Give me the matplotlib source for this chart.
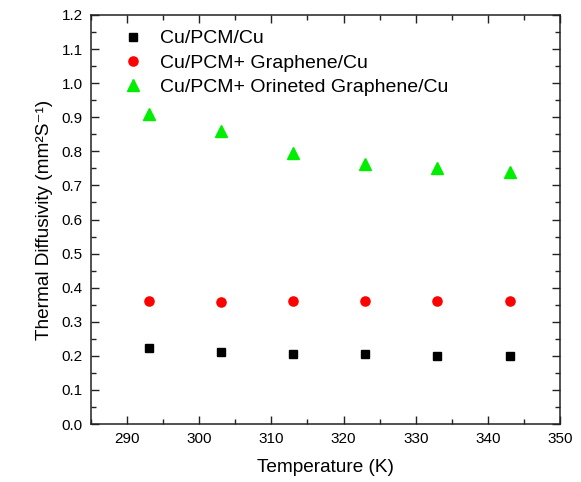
import matplotlib
matplotlib.use("Agg")
import matplotlib.pyplot as plt
from matplotlib.ticker import MultipleLocator, FormatStrFormatter

plt.rcParams['font.family'] = ['Liberation Sans', 'DejaVu Sans']

temperature = [293, 303, 313, 323, 333, 343]
cu_pcm_cu = [0.222, 0.212, 0.204, 0.204, 0.201, 0.199]
cu_pcm_graphene = [0.362, 0.358, 0.362, 0.362, 0.362, 0.361]
cu_pcm_oriented = [0.909, 0.860, 0.794, 0.764, 0.750, 0.739]

fig = plt.figure(figsize=(5.81, 4.82), dpi=100)
ax = fig.add_axes([0.1566, 0.1203, 0.8074, 0.8486])

ax.plot(temperature, cu_pcm_cu, linestyle='none', marker='s', ms=6.0,
        color='black', label='Cu/PCM/Cu')
ax.plot(temperature, cu_pcm_graphene, linestyle='none', marker='o', ms=6.6,
        color='#ff0000', label='Cu/PCM+ Graphene/Cu')
ax.plot(temperature, cu_pcm_oriented, linestyle='none', marker='^', ms=8,
        color='#00ee00', label='Cu/PCM+ Orineted Graphene/Cu')

ax.set_xlim(285, 350)
ax.set_ylim(0.0, 1.2)
ax.xaxis.set_major_locator(MultipleLocator(10))
ax.xaxis.set_minor_locator(MultipleLocator(5))
ax.yaxis.set_major_locator(MultipleLocator(0.1))
ax.yaxis.set_minor_locator(MultipleLocator(0.05))
ax.yaxis.set_major_formatter(FormatStrFormatter('%.1f'))

ax.tick_params(which='both', direction='in', top=True, right=True,
               labelsize=11, width=1, color='#222222')
ax.tick_params(which='major', length=6, pad=6)
ax.tick_params(which='minor', length=3.5)
for s in ax.spines.values():
    s.set_linewidth(1.1)
    s.set_color('#222222')

ax.set_xlabel('Temperature (K)', fontsize=13.7, labelpad=9)
ax.set_ylabel('Thermal Diffusivity (mm²S⁻¹)', fontsize=13.7, labelpad=6)

ax.legend(loc='upper left', frameon=False, fontsize=14, handletextpad=0.6,
          handlelength=1.6, borderaxespad=0.0, labelspacing=0.35,
          bbox_to_anchor=(0.04, 0.983))

fig.savefig('out.png', dpi=100)
